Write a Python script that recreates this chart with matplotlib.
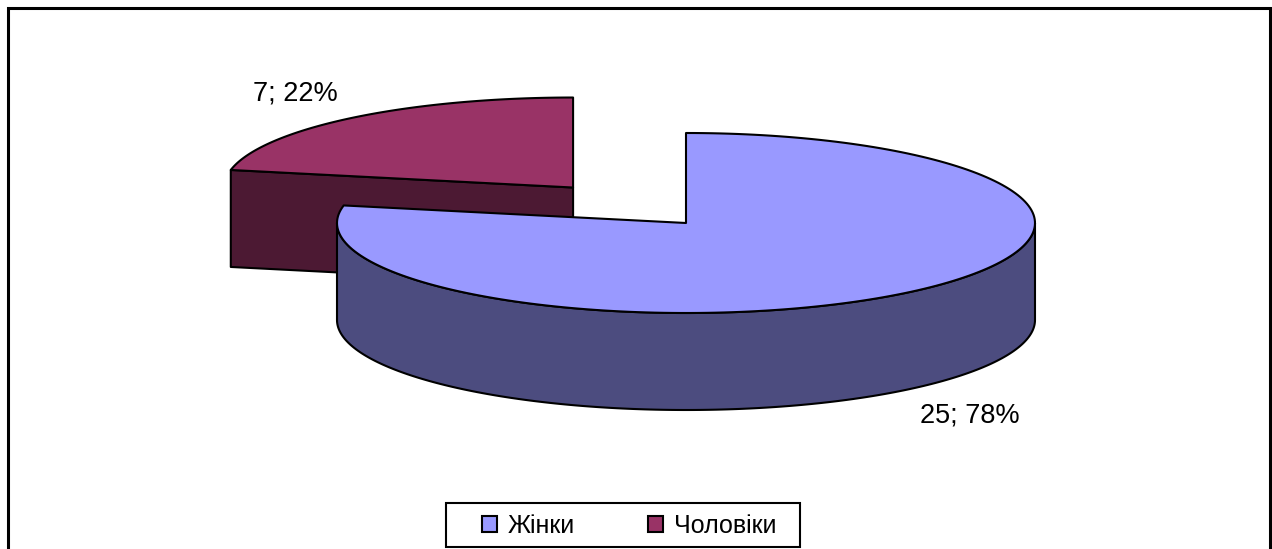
import numpy as np
import matplotlib.pyplot as plt
from matplotlib.patches import Polygon, Patch, Rectangle

plt.rcParams['font.family'] = ['Liberation Sans', 'DejaVu Sans']

labels = ['Жінки', 'Чоловіки']
values = [25, 7]
top_colors = ['#9999FF', '#993366']
side_colors = ['#4C4C7F', '#4C1933']
explode = [0.0, 0.51]

# pie layout, in pixels (y grows downward)
cx, cy = 686, 223
rx, ry = 349, 90
depth = 97
label_pos = [(970, 416), (295, 94)]

fig = plt.figure(figsize=(12.72, 5.49), dpi=100)
ax = fig.add_axes([0, 0, 1, 1])
ax.set_xlim(0, 1272)
ax.set_ylim(549, 0)
ax.axis('off')


def pt(c, th, dz=0):
    t = np.radians(th)
    return (c[0] + rx * np.cos(t), c[1] - ry * np.sin(t) + dz)


def arc(c, a0, a1, dz=0, n=200):
    th = np.linspace(a0, a1, n)
    return [pt(c, t, dz) for t in th]


total = sum(values)
start = 90.0
wedges = []
for i, v in enumerate(values):
    end = start - v / total * 360
    mid = np.radians((start + end) / 2)
    off = (explode[i] * rx * np.cos(mid), -explode[i] * ry * np.sin(mid))
    c = (cx + off[0], cy + off[1])
    wedges.append((i, end, start, c))
    start = end

kw = dict(edgecolor='black', linewidth=1.5, joinstyle='round')

# back wedges first
for i, e, s, c in sorted(wedges, key=lambda w: w[3][1]):
    # radial faces facing the viewer
    for edge, normal in ((s, s + 90), (e, e - 90)):
        if np.sin(np.radians(normal)) < -1e-6:
            p0, p1 = c, pt(c, edge)
            poly = [p0, p1, (p1[0], p1[1] + depth), (p0[0], p0[1] + depth)]
            ax.add_patch(Polygon(poly, closed=True, facecolor=side_colors[i], **kw))
    # outer curved side, front half only
    for k in range(-2, 2):
        lo, hi = max(e, -180 + 360 * k), min(s, 360 * k)
        if lo < hi:
            poly = arc(c, lo, hi) + arc(c, hi, lo, depth)
            ax.add_patch(Polygon(poly, closed=True, facecolor=side_colors[i], **kw))
    # top face
    poly = [c] + arc(c, s, e)
    ax.add_patch(Polygon(poly, closed=True, facecolor=top_colors[i], **kw))

for i, v in enumerate(values):
    pct = round(v / total * 100)
    ax.text(*label_pos[i], f'{v}; {pct}%', fontsize=19.5, ha='center', va='center')

# legend box drawn separately so its padding matches the original
ax.add_patch(Rectangle((446, 503), 354, 44, fill=False, edgecolor='black', linewidth=1.5))
handles = [Patch(facecolor=top_colors[i], edgecolor='black', linewidth=1.5) for i in range(len(values))]
leg = ax.legend(handles, labels, loc='center', bbox_to_anchor=(629, 526),
                bbox_transform=ax.transData, ncol=2, frameon=False,
                fontsize=18, handlelength=0.6, handleheight=0.6, handletextpad=0.44,
                columnspacing=2.9, borderpad=0.3)

# outer chart frame (bottom edge falls outside the picture)
fig.patches.append(Rectangle((7.5 / 1272, -0.05), 1262 / 1272, 1.05 - 7.5 / 549,
                             transform=fig.transFigure, fill=False,
                             edgecolor='black', linewidth=2.2))

fig.savefig('out.png', dpi=100)
